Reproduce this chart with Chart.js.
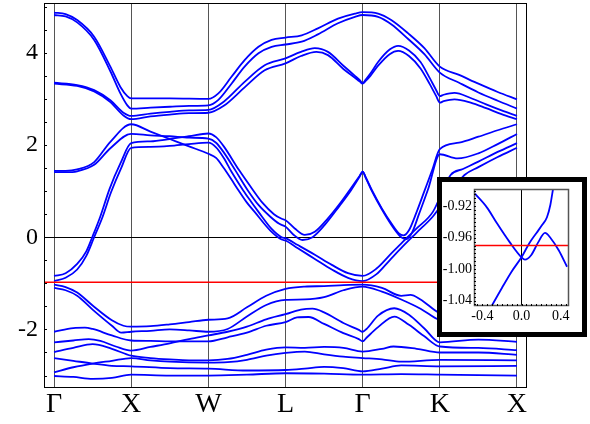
<!DOCTYPE html>
<html>
<head>
<meta charset="utf-8">
<script src="https://cdn.jsdelivr.net/npm/chart.js@4.4.1/dist/chart.umd.min.js"></script>
<style>
  body { margin: 0; background: #fff; }
  #band-chart { position: absolute; left: 0; top: 0; }
  #inset-box { position: absolute; left: 437px; top: 177px; width: 140px; height: 150px;
               border: 5px solid #000; background: #fff; }
</style>
</head>
<body>
<canvas id="band-chart" width="590" height="424"></canvas>
<div id="inset-box"><canvas id="inset-chart" width="140" height="150"></canvas></div>
<script>
// high symmetry path
const kTicks = [0, 1, 2, 3, 4, 5, 6];
const kLabels = ['Γ', 'X', 'W', 'L', 'Γ', 'K', 'X'];
const energyTicks = [-2, 0, 2, 4];
const fermiLevel = -0.975;

// bands, [k, E]
const bandU1 = [[0,4.87],[0.15,4.84],[0.3,4.71],[0.52,4.35],[0.73,3.7],[0.86,3.26],[0.95,3.06],[1,3.01],[1.5,3.01],[2,3.0],[2.13,3.12],[2.3,3.48],[2.47,3.84],[2.65,4.13],[2.82,4.28],[3,4.33],[3.21,4.38],[3.42,4.53],[3.68,4.74],[3.9,4.85],[4,4.88],[4.2,4.85],[4.37,4.71],[4.59,4.42],[4.8,4.1],[5,3.70],[5.25,3.52],[5.5,3.33],[5.75,3.15],[6,2.99]];
const bandU2 = [[0,4.82],[0.15,4.79],[0.3,4.66],[0.52,4.28],[0.73,3.6],[0.86,3.12],[0.95,2.86],[1,2.79],[1.25,2.81],[1.5,2.83],[1.75,2.85],[2,2.86],[2.13,2.98],[2.3,3.33],[2.47,3.7],[2.65,3.99],[2.82,4.13],[3,4.18],[3.21,4.24],[3.42,4.40],[3.68,4.64],[3.9,4.78],[4,4.82],[4.2,4.78],[4.37,4.62],[4.59,4.30],[4.8,3.97],[5,3.57],[5.25,3.35],[5.5,3.14],[5.75,2.96],[6,2.79]];
const bandU3 = [[0,3.35],[0.3,3.30],[0.52,3.19],[0.73,2.97],[0.9,2.7],[1,2.63],[1.25,2.68],[1.5,2.72],[1.75,2.75],[2,2.76],[2.2,2.94],[2.47,3.37],[2.73,3.73],[3,3.88],[3.2,4.02],[3.38,4.10],[3.55,4.02],[3.75,3.72],[3.9,3.5],[3.96,3.41],[4,3.34],[4.04,3.42],[4.1,3.55],[4.2,3.8],[4.35,4.07],[4.46,4.15],[4.6,4.05],[4.75,3.8],[4.87,3.45],[4.95,3.2],[5,3.06],[5.05,3.09],[5.19,3.13],[5.4,3.02],[5.6,2.88],[5.8,2.75],[6,2.63]];
const bandU4 = [[0,3.33],[0.3,3.28],[0.52,3.16],[0.73,2.93],[0.9,2.64],[1,2.56],[1.25,2.62],[1.5,2.66],[1.75,2.69],[2,2.70],[2.2,2.85],[2.47,3.25],[2.73,3.62],[3,3.77],[3.2,3.93],[3.4,4.02],[3.55,3.95],[3.75,3.65],[3.9,3.46],[3.96,3.38],[4,3.33],[4.04,3.39],[4.1,3.5],[4.2,3.72],[4.35,3.97],[4.46,4.04],[4.6,3.93],[4.75,3.66],[4.87,3.32],[4.95,3.07],[5,2.92],[5.05,2.95],[5.19,2.99],[5.4,2.92],[5.6,2.80],[5.8,2.67],[6,2.56]];
const bandA = [[0,-0.84],[0.15,-0.78],[0.3,-0.58],[0.42,-0.3],[0.5,0.02],[0.6,0.45],[0.72,1.05],[0.86,1.6],[1,2.04],[1.25,2.08],[1.5,2.13],[1.75,2.19],[2,2.25],[2.1,2.17],[2.2,1.97],[2.4,1.45],[2.58,1.02],[2.7,0.75],[2.85,0.5],[2.95,0.4],[3,0.37],[3.12,0.19],[3.25,0.05],[3.38,0.12],[3.55,0.41],[3.7,0.72],[3.83,1.02],[3.96,1.33],[4,1.42],[4.04,1.3],[4.12,1.02],[4.25,0.62],[4.38,0.28],[4.47,0.08],[4.53,0.04],[4.6,0.15],[4.7,0.55],[4.8,1.0],[4.9,1.45],[5,1.91],[5.25,2.05],[5.5,2.18],[5.75,2.32],[6,2.45]];
const bandB = [[0,1.41],[0.15,1.41],[0.3,1.43],[0.52,1.57],[0.73,1.93],[1,2.24],[1.25,2.21],[1.5,2.19],[1.75,2.16],[2,2.14],[2.1,2.05],[2.2,1.84],[2.35,1.45],[2.51,1.02],[2.65,0.7],[2.8,0.45],[2.92,0.29],[3,0.23],[3.1,0.06],[3.22,-0.06],[3.35,0.0],[3.5,0.25],[3.7,0.68],[3.85,1.02],[3.96,1.31],[4,1.42],[4.04,1.29],[4.12,1.0],[4.25,0.6],[4.4,0.2],[4.5,0.0],[4.57,-0.04],[4.64,0.1],[4.73,0.5],[4.85,1.05],[5,1.80],[5.23,1.71],[5.5,1.82],[5.75,2.02],[6,2.24]];
const bandC = [[0,-0.95],[0.15,-0.88],[0.3,-0.70],[0.42,-0.4],[0.52,0.0],[0.62,0.4],[0.74,0.98],[0.87,1.5],[1,1.94],[1.25,1.96],[1.5,1.98],[1.75,2.02],[2,2.05],[2.1,1.95],[2.2,1.72],[2.3,1.42],[2.45,1.02],[2.55,0.78],[2.65,0.55],[2.82,0.18],[2.95,0.0],[3,-0.02],[3.16,-0.17],[3.38,-0.38],[3.6,-0.6],[3.81,-0.78],[4,-0.84],[4.18,-0.68],[4.35,-0.39],[4.52,-0.10],[4.70,0.19],[4.91,0.55],[5.14,1.35],[5.3,1.48],[5.5,1.64],[5.75,1.85],[6,2.04]];
const bandD = [[0,1.44],[0.15,1.44],[0.3,1.47],[0.52,1.63],[0.73,2.07],[1,2.45],[1.25,2.29],[1.5,2.13],[1.75,1.97],[2,1.81],[2.1,1.72],[2.2,1.5],[2.3,1.25],[2.39,1.02],[2.5,0.75],[2.6,0.55],[2.8,0.15],[2.95,-0.05],[3,-0.07],[3.16,-0.24],[3.38,-0.47],[3.6,-0.70],[3.81,-0.88],[4,-0.95],[4.18,-0.80],[4.35,-0.5],[4.52,-0.2],[4.70,0.1],[4.91,0.45],[5.15,1.0],[5.32,1.35],[5.5,1.52],[5.75,1.74],[6,1.94]];
const bandV1 = [[0,-1.03],[0.15,-1.08],[0.3,-1.2],[0.5,-1.48],[0.75,-1.8],[0.9,-1.92],[1,-1.94],[1.25,-1.93],[1.5,-1.89],[1.75,-1.84],[2,-1.79],[2.25,-1.76],[2.5,-1.52],[2.75,-1.27],[3,-1.12],[3.25,-1.07],[3.5,-1.06],[3.75,-1.04],[4,-1.03],[4.25,-1.1],[4.5,-1.27],[4.62,-1.25],[4.75,-1.35],[5,-1.65],[5.5,-1.8],[6,-1.9]];
const bandV2 = [[0,-1.10],[0.15,-1.15],[0.3,-1.27],[0.5,-1.57],[0.75,-1.92],[0.87,-2.07],[1,-2.05],[1.25,-2.03],[1.5,-2.0],[1.75,-2.02],[2,-2.05],[2.25,-1.99],[2.5,-1.72],[2.75,-1.47],[3,-1.36],[3.25,-1.35],[3.5,-1.30],[3.75,-1.15],[4,-1.07],[4.25,-1.18],[4.5,-1.35],[4.75,-1.55],[5,-1.8],[6,-2.0]];
const bandV3 = [[0,-2.05],[0.25,-1.97],[0.4,-1.96],[0.5,-1.99],[0.75,-2.13],[1,-2.24],[1.25,-2.25],[1.5,-2.26],[1.75,-2.26],[2,-2.26],[2.25,-2.17],[2.5,-2.07],[2.75,-1.92],[3,-1.84],[3.15,-1.74],[3.3,-1.73],[3.5,-1.88],[3.75,-2.08],[3.95,-2.21],[4,-2.26],[4.05,-2.18],[4.2,-1.95],[4.41,-1.72],[4.6,-1.9],[4.8,-2.15],[5,-2.37],[5.5,-2.40],[6,-2.45]];
const bandV4 = [[0,-2.28],[0.25,-2.24],[0.45,-2.21],[0.6,-2.25],[0.8,-2.37],[1,-2.46],[1.25,-2.38],[1.5,-2.30],[1.75,-2.21],[2,-2.13],[2.25,-2.05],[2.5,-1.94],[2.75,-1.78],[3,-1.67],[3.2,-1.57],[3.35,-1.55],[3.5,-1.63],[3.75,-1.86],[3.95,-2.01],[4,-2.05],[4.05,-1.99],[4.2,-1.7],[4.41,-1.54],[4.6,-1.68],[4.8,-1.98],[5,-2.28],[5.5,-2.22],[6,-2.27]];
const bandV5 = [[0,-2.49],[0.25,-2.40],[0.5,-2.32],[0.75,-2.42],[1,-2.57],[1.25,-2.62],[1.5,-2.65],[1.75,-2.67],[2,-2.67],[2.25,-2.64],[2.5,-2.55],[2.75,-2.44],[3,-2.39],[3.25,-2.40],[3.5,-2.38],[3.75,-2.40],[4,-2.48],[4.25,-2.42],[4.4,-2.37],[4.7,-2.42],[5,-2.5],[5.5,-2.5],[6,-2.55]];
const bandV6 = [[0,-2.62],[0.25,-2.68],[0.5,-2.74],[0.75,-2.79],[1,-2.80],[1.5,-2.84],[2,-2.85],[2.5,-2.89],[3,-2.88],[3.25,-2.85],[3.5,-2.81],[3.75,-2.84],[4,-2.91],[4.25,-2.85],[4.5,-2.78],[5,-2.8],[6,-2.79]];
const bandV7 = [[0,-2.93],[0.25,-2.82],[0.5,-2.74],[0.75,-2.68],[1,-2.62],[1.25,-2.67],[1.5,-2.70],[2,-2.72],[2.25,-2.71],[2.5,-2.66],[2.75,-2.57],[3,-2.51],[3.25,-2.48],[3.5,-2.54],[3.75,-2.59],[4,-2.62],[4.25,-2.65],[4.5,-2.7],[5,-2.66],[6,-2.67]];
const bandV8 = [[0,-3.01],[0.25,-3.03],[0.5,-3.07],[0.75,-3.05],[1,-2.98],[1.5,-3.0],[2,-3.0],[2.5,-2.98],[3,-2.95],[3.5,-2.96],[4,-2.98],[4.5,-2.97],[5,-2.98],[6,-3.0]];

const bands = [bandU1, bandU2, bandU3, bandU4, bandA, bandB, bandC, bandD,
               bandV1, bandV2, bandV3, bandV4, bandV5, bandV6, bandV7, bandV8];

// inset: zoom around the crossing just below the fermi level
const insetXTicks = [-0.4, 0.0, 0.4];
const insetYTicks = [-1.04, -1.00, -0.96, -0.92];
const insetFermi = -0.970;
const insetBand1 = [[-0.475,-0.904],[-0.35,-0.922],[-0.254,-0.941],[-0.119,-0.966],[0,-0.985],[0.035,-0.988],[0.1,-0.982],[0.17,-0.966],[0.24,-0.954],[0.3,-0.961],[0.38,-0.976],[0.465,-0.997]];
const insetBand2 = [[-0.305,-1.047],[-0.2,-1.024],[-0.1,-1.003],[0,-0.985],[0.08,-0.967],[0.153,-0.954],[0.21,-0.944],[0.26,-0.934],[0.295,-0.918],[0.322,-0.898]];

const serif = 'Liberation Serif';
const blue = '#0000ff';

function toPoints(arr) {
    return arr.map(p => ({x: p[0], y: p[1]}));
}

function bandDataset(arr, width) {
    return {
        data: toPoints(arr),
        showLine: true,
        borderColor: blue,
        borderWidth: width,
        pointRadius: 0,
        cubicInterpolationMode: 'monotone'
    };
}

// drop the label overhang padding chart.js adds, the plot box is placed by hand
function noPad(s) {
    s.paddingTop = 0; s.paddingBottom = 0; s.paddingLeft = 0; s.paddingRight = 0;
}

// frame round the plot area plus short inward ticks on the left and bottom
const framePlugin = {
    id: 'frame',
    afterDraw(chart, args, opts) {
        const ctx = chart.ctx;
        const a = chart.chartArea;
        const ys = chart.scales.y, xs = chart.scales.x;
        ctx.save();
        ctx.strokeStyle = opts.color;
        ctx.lineWidth = opts.width;
        ctx.strokeRect(a.left + 0.5, a.top + 0.5, a.right - a.left - 1, a.bottom - a.top - 1);
        ctx.lineWidth = 1;
        ctx.strokeStyle = '#000';
        ctx.beginPath();
        for (let v = opts.yFrom; v <= ys.max + 1e-9; v += opts.yStep) {
            const y = Math.round(ys.getPixelForValue(v)) + 0.5;
            ctx.moveTo(a.left, y);
            ctx.lineTo(a.left + opts.len, y);
        }
        if (opts.xStep) {
            for (let v = opts.xFrom; v <= xs.max + 1e-9; v += opts.xStep) {
                const x = Math.round(xs.getPixelForValue(v)) + 0.5;
                ctx.moveTo(x, a.bottom);
                ctx.lineTo(x, a.bottom - opts.len);
            }
        }
        ctx.stroke();
        ctx.restore();
    }
};

const mainDatasets = [{
    data: [{x: -0.13, y: fermiLevel}, {x: 6.13, y: fermiLevel}],
    showLine: true, borderColor: '#ff0000', borderWidth: 1.5, pointRadius: 0
}].concat(bands.map(b => bandDataset(b, 1.8)));

new Chart(document.getElementById('band-chart'), {
    type: 'scatter',
    data: {datasets: mainDatasets},
    plugins: [framePlugin],
    options: {
        responsive: false,
        animation: false,
        devicePixelRatio: 1,
        layout: {padding: {top: 3, right: 63, left: 0, bottom: 0}},
        plugins: {
            legend: {display: false},
            tooltip: {enabled: false},
            frame: {color: '#000', width: 1, yFrom: -3, yStep: 0.5, len: 3}
        },
        scales: {
            x: {
                type: 'linear', min: -0.13, max: 6.13,
                afterBuildTicks: s => { s.ticks = kTicks.map(v => ({value: v})); },
                afterFit: s => { s.height = 36; noPad(s); },
                ticks: {
                    callback: v => kLabels[kTicks.indexOf(v)],
                    font: {family: serif, size: 28}, color: '#000',
                    padding: 0, maxRotation: 0, autoSkip: false
                },
                grid: {color: '#555', lineWidth: 1, drawTicks: false},
                border: {display: false}
            },
            y: {
                min: -3.27, max: 5.08,
                afterBuildTicks: s => { s.ticks = energyTicks.map(v => ({value: v})); },
                afterFit: s => { s.width = 44; noPad(s); },
                ticks: {
                    callback: v => String(v),
                    font: {family: serif, size: 24}, color: '#000', padding: 6
                },
                grid: {
                    color: c => (c.tick && c.tick.value === 0) ? '#000' : 'rgba(0,0,0,0)',
                    lineWidth: 1, drawTicks: false
                },
                border: {display: false}
            }
        }
    }
});

new Chart(document.getElementById('inset-chart'), {
    type: 'scatter',
    data: {
        datasets: [
            {data: [{x: -0.485, y: insetFermi}, {x: 0.485, y: insetFermi}],
             showLine: true, borderColor: '#ff0000', borderWidth: 1.5, pointRadius: 0},
            bandDataset(insetBand1, 1.8),
            bandDataset(insetBand2, 1.8)
        ]
    },
    plugins: [framePlugin],
    options: {
        responsive: false,
        animation: false,
        devicePixelRatio: 1,
        layout: {padding: {top: 7, right: 13, left: 0, bottom: 0}},
        plugins: {
            legend: {display: false},
            tooltip: {enabled: false},
            frame: {color: '#555', width: 1.5, yFrom: -1.045, yStep: 0.005, xFrom: -0.45, xStep: 0.05, len: 2}
        },
        scales: {
            x: {
                type: 'linear', min: -0.485, max: 0.485,
                afterBuildTicks: s => { s.ticks = insetXTicks.map(v => ({value: v})); },
                afterFit: s => { s.height = 26; noPad(s); },
                ticks: {
                    callback: v => v.toFixed(1),
                    font: {family: serif, size: 14}, color: '#000', padding: 2, maxRotation: 0
                },
                grid: {
                    color: c => (c.tick && c.tick.value === 0) ? '#000' : 'rgba(0,0,0,0)',
                    lineWidth: 1, drawTicks: false
                },
                border: {display: false}
            },
            y: {
                min: -1.047, max: -0.898,
                afterBuildTicks: s => { s.ticks = insetYTicks.map(v => ({value: v})); },
                afterFit: s => { s.width = 32; noPad(s); },
                ticks: {
                    callback: v => v.toFixed(2),
                    font: {family: serif, size: 14}, color: '#000', padding: 2
                },
                grid: {display: false, drawTicks: false},
                border: {display: false}
            }
        }
    }
});
</script>
</body>
</html>
